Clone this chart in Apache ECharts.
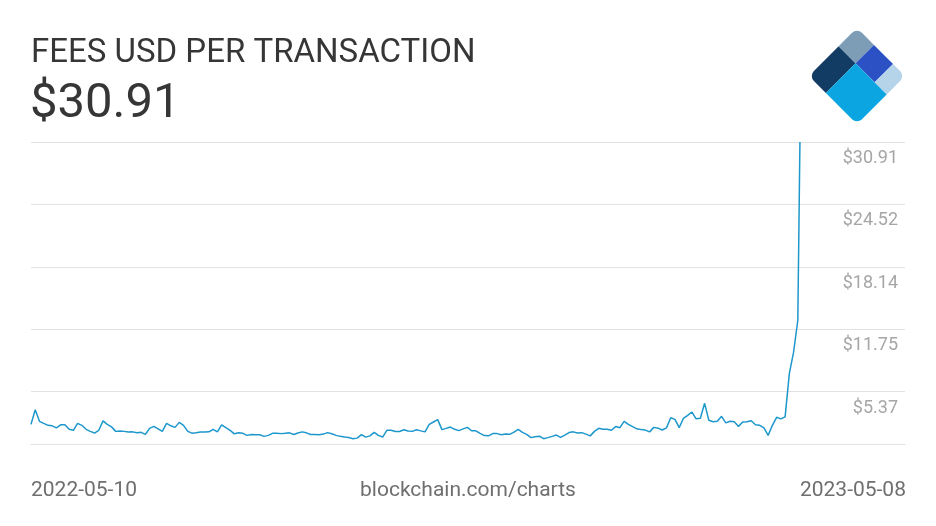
<!DOCTYPE html>
<html><head><meta charset="utf-8">
<script src="https://cdn.jsdelivr.net/npm/echarts@6/dist/echarts.min.js"></script>
<style>html,body{margin:0;padding:0;background:#fff}#c{width:936px;height:526px}</style>
</head><body><div id="c"></div>
<script>
const titleText = 'FEES USD PER TRANSACTION';
const headlineValue = '$30.91';
const footerText = 'blockchain.com/charts';
const xTickLabels = ['2022-05-10', '2023-05-08'];
const xTickDays = [0, 363];
const yTickValues = [5.37, 11.75, 18.14, 24.52, 30.91];
// fees per transaction (USD), one reading every 2 days from 2022-05-10, last reading 2023-05-08
const feeValues = [
  2.02, 3.51, 2.33, 2.12, 1.92, 1.87, 1.66, 1.97, 1.97, 1.51,
  1.41, 2.12, 1.92, 1.51, 1.30, 1.13, 1.41, 2.38, 2.02, 1.76,
  1.30, 1.34, 1.30, 1.23, 1.25, 1.15, 1.20, 1.00, 1.61, 1.81,
  1.56, 1.30, 2.12, 1.87, 1.71, 2.22, 1.92, 1.30, 1.12, 1.15,
  1.23, 1.23, 1.25, 1.51, 1.25, 1.97, 1.68, 1.41, 1.05, 1.15,
  1.10, 0.89, 0.97, 0.95, 0.95, 0.79, 0.89, 1.10, 1.10, 1.07,
  1.10, 1.15, 0.98, 1.13, 1.25, 1.15, 0.98, 0.97, 0.95, 1.02,
  1.17, 1.05, 0.89, 0.79, 0.72, 0.67, 0.55, 0.61, 0.97, 0.71,
  0.84, 1.20, 0.89, 0.72, 1.41, 1.41, 1.28, 1.29, 1.46, 1.33,
  1.30, 1.46, 1.35, 1.25, 2.02, 2.26, 2.50, 1.48, 1.61, 1.74,
  1.51, 1.38, 1.56, 1.71, 1.36, 1.36, 1.10, 0.87, 0.84, 1.07,
  1.07, 0.95, 1.03, 1.00, 1.22, 1.51, 1.20, 1.00, 0.66, 0.76,
  0.81, 0.55, 0.66, 0.79, 0.92, 0.69, 0.92, 1.18, 1.25, 1.13,
  1.17, 1.02, 0.84, 1.30, 1.61, 1.51, 1.51, 1.41, 1.79, 1.68,
  2.33, 2.02, 1.78, 1.56, 1.48, 1.43, 1.25, 1.71, 1.63, 1.44,
  1.66, 2.69, 2.53, 1.68, 2.64, 2.94, 3.28, 2.58, 2.64, 4.17,
  2.43, 2.28, 2.33, 2.84, 2.17, 2.33, 2.28, 1.81, 2.26, 2.28,
  2.38, 1.97, 1.92, 1.66, 0.89, 1.92, 2.74, 2.58, 2.79, 7.21,
  9.40, 12.67, 30.91
];
const sampleDays = feeValues.map((_, i) => i < feeValues.length - 1 ? i * 2 : xTickDays[1]);

const chart = echarts.init(document.getElementById('c'), null, {renderer: 'canvas'});
const FONT = 'Roboto, "Noto Sans", sans-serif';
const R = 7;
chart.setOption({
  animation: false,
  backgroundColor: '#ffffff',
  title: [
    {text: titleText, left: 31, top: 37, padding: 0,
     textStyle: {fontFamily: FONT, fontSize: 33, fontWeight: 'normal', color: '#363636', lineHeight: 33}},
    {text: headlineValue, left: 30, top: 80, padding: 0,
     textStyle: {fontFamily: FONT, fontSize: 49, fontWeight: 'normal', color: '#363636', lineHeight: 49}},
    {text: footerText, left: 'center', top: 480, padding: 0,
     textStyle: {fontFamily: FONT, fontSize: 21, fontWeight: 'normal', color: '#6f6f6f', lineHeight: 21}}
  ],
  graphic: [{
    type: 'group', x: 857, y: 76, rotation: Math.PI / 4,
    children: [
      {type: 'rect', shape: {x: -34, y: -34, width: 42, height: 24, r: [R, 0, 0, 0]}, style: {fill: '#133c65'}},
      {type: 'rect', shape: {x: 8, y: -34, width: 26, height: 24, r: [0, R, 0, 0]}, style: {fill: '#7d9db6'}},
      {type: 'rect', shape: {x: 8, y: -10, width: 26, height: 27, r: 0}, style: {fill: '#2c51c4'}},
      {type: 'rect', shape: {x: 8, y: 17, width: 26, height: 17, r: [0, 0, R, 0]}, style: {fill: '#b5d4e9'}},
      {type: 'rect', shape: {x: -34, y: -10, width: 42, height: 44, r: [0, 0, 0, R]}, style: {fill: '#0ba6e1'}}
    ]
  }],
  grid: {left: 31, right: 31, top: 142, bottom: 72, containLabel: false},
  xAxis: {
    type: 'value', min: 0, max: 412.6,
    axisLine: {show: true, lineStyle: {color: '#e2e2e2', width: 1}},
    axisTick: {show: false},
    splitLine: {show: false},
    axisLabel: {
      customValues: xTickDays,
      formatter: v => xTickLabels[xTickDays.indexOf(v)],
      align: 'left', margin: 26,
      fontFamily: FONT, fontSize: 21, color: '#6f6f6f'
    }
  },
  yAxis: {
    type: 'value', position: 'right', min: -1.015, max: 30.91,
    axisLine: {show: false},
    axisTick: {show: false, customValues: yTickValues},
    splitLine: {show: true, lineStyle: {color: '#e2e2e2', width: 1}},
    axisLabel: {
      inside: true, customValues: yTickValues,
      formatter: v => '$' + v.toFixed(2),
      align: 'right', verticalAlign: 'top', lineHeight: 33, margin: 7,
      fontFamily: FONT, fontSize: 18, color: '#a6a6a6'
    }
  },
  series: [{
    type: 'line',
    data: sampleDays.map((d, i) => [d, feeValues[i]]),
    showSymbol: false,
    lineStyle: {color: '#1d97cc', width: 1.5},
    clip: true
  }]
});
</script></body></html>
